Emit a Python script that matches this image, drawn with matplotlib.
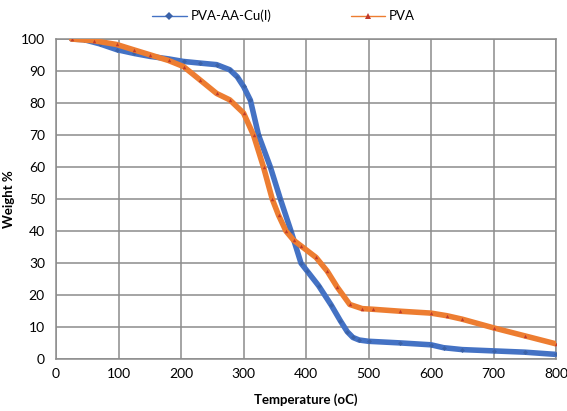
import matplotlib
matplotlib.use("Agg")
import matplotlib.pyplot as plt

# values
temp_cu = [25, 45, 70, 97, 125, 150, 180, 204, 230, 257, 278, 290, 300, 311, 324, 343,
           359, 376, 392, 402, 420, 440, 455, 466, 475, 485, 500, 550,
           600, 620, 650, 700, 750, 800]
weight_cu = [100, 99.8, 98.5, 96.7, 95.5, 94.6, 93.8, 93.0, 92.5, 92.0, 90.4, 88.2, 85.2, 80.9,
             70.0, 60.0, 50.0, 40.0, 30.0, 27.5, 23.0, 17.0, 12.0,
             8.6, 6.8, 6.0, 5.6, 5.1, 4.5, 3.6, 3.0, 2.6, 2.2, 1.5]

temp_pva = [25, 60, 97, 125, 150, 180, 204, 230, 257, 278, 300, 316, 332, 346, 356,
            368, 380, 392, 416, 434, 450, 470, 490, 507, 550, 600, 625, 650, 700, 750, 800]
weight_pva = [100, 99.5, 98.3, 96.6, 95.1, 93.3, 91.4, 87.3, 83.0, 81.0, 76.9, 70.0, 60.0,
              50.0, 45.0, 40.0, 37.2, 35.4, 31.8, 27.5, 22.5, 17.1, 15.8, 15.6, 15.0,
              14.4, 13.6, 12.5, 9.8, 7.3, 4.8]

xticks = [0, 100, 200, 300, 400, 500, 600, 700, 800]
yticks = [0, 10, 20, 30, 40, 50, 60, 70, 80, 90, 100]

plt.rcParams['font.family'] = ['Lato', 'DejaVu Sans']

fig = plt.figure(figsize=(5.67, 4.11), dpi=100)
ax = fig.add_axes([0.0988, 0.126, 0.8818, 0.779])

ax.plot(temp_cu, weight_cu, color="#4472C4", linewidth=4, solid_capstyle="round",
        marker="D", markersize=2.5, markerfacecolor="#3B62A8", markeredgewidth=0,
        label="PVA-AA-Cu(I)", zorder=3)
ax.plot(temp_pva, weight_pva, color="#ED7D31", linewidth=4, solid_capstyle="round",
        marker="^", markersize=2.5, markerfacecolor="#C0392B", markeredgewidth=0,
        label="PVA", zorder=4)

ax.set_xlim(0, 800)
ax.set_ylim(0, 100)
ax.set_xticks(xticks)
ax.set_yticks(yticks)
ax.grid(True, color="#8C8C8C", linewidth=1.1)
ax.set_axisbelow(True)
for s in ax.spines.values():
    s.set_color("#8C8C8C")
    s.set_linewidth(1.1)
ax.tick_params(length=0, labelsize=10, colors="#000000")
ax.tick_params(axis="y", pad=8)
ax.tick_params(axis="x", pad=6)

ax.set_xlabel("Temperature (oC)", fontsize=9.5, fontweight="bold", labelpad=10)
ax.set_ylabel("Weight %", fontsize=9.5, fontweight="bold", labelpad=4)

leg = fig.legend(loc="upper center", bbox_to_anchor=(0.5, 1.005), ncol=2, frameon=False,
                 fontsize=9.5, columnspacing=6, handlelength=2.6, handletextpad=0.3)
for ln in leg.get_lines():
    ln.set_linewidth(1.0)
    ln.set_markersize(4)

fig.savefig("out.png", dpi=100)
